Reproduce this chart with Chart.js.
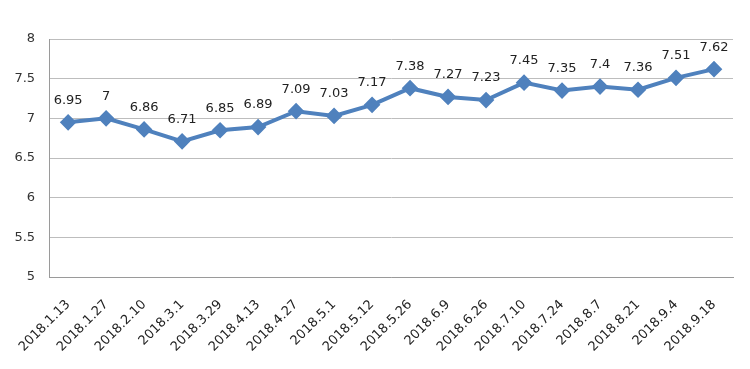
<!DOCTYPE html>
<html>
<head>
<meta charset="utf-8">
<script src="https://cdn.jsdelivr.net/npm/chart.js@4/dist/chart.umd.min.js"></script>
<style>
  html, body { margin: 0; padding: 0; background: #fff; }
  #wrap { width: 750px; height: 369px; position: relative; }
</style>
</head>
<body>
<div id="wrap"><canvas id="chart"></canvas></div>
<script>
const dates = ['2018.1.13', '2018.1.27', '2018.2.10', '2018.3.1', '2018.3.29', '2018.4.13', '2018.4.27',
  '2018.5.1', '2018.5.12', '2018.5.26', '2018.6.9', '2018.6.26', '2018.7.10', '2018.7.24',
  '2018.8.7', '2018.8.21', '2018.9.4', '2018.9.18'];
const values = [6.95, 7, 6.86, 6.71, 6.85, 6.89, 7.09, 7.03, 7.17, 7.38, 7.27, 7.23, 7.45, 7.35, 7.4, 7.36, 7.51, 7.62];
const yTicks = [5, 5.5, 6, 6.5, 7, 7.5, 8];

const lineColor = '#4F81BD';

// draw the value above each point
const valueLabels = {
  id: 'valueLabels',
  afterDatasetsDraw(chart) {
    const ctx = chart.ctx;
    const meta = chart.getDatasetMeta(0);
    ctx.save();
    ctx.font = '13px "DejaVu Sans", sans-serif';
    ctx.fillStyle = '#222';
    ctx.textAlign = 'center';
    ctx.textBaseline = 'middle';
    meta.data.forEach((pt, i) => {
      ctx.fillText(String(values[i]), pt.x, pt.y - 22);
    });
    ctx.restore();
  }
};

const ctx = document.getElementById('chart').getContext('2d');
new Chart(ctx, {
  type: 'line',
  data: {
    labels: dates,
    datasets: [{
      data: values,
      borderColor: lineColor,
      backgroundColor: lineColor,
      borderWidth: 4,
      pointStyle: 'rectRot',
      pointRadius: 5.5,
      pointHoverRadius: 5.5,
      tension: 0,
      fill: false
    }]
  },
  options: {
    responsive: true,
    maintainAspectRatio: false,
    animation: false,
    layout: { padding: { top: 39, right: 17, left: 0, bottom: 0 } },
    plugins: {
      legend: { display: false },
      tooltip: { enabled: false }
    },
    scales: {
      x: {
        offset: true,
        grid: { display: false, drawTicks: false },
        border: { color: '#9a9a9a', width: 1 },
        ticks: {
          color: '#222',
          font: { size: 13, family: '"DejaVu Sans", sans-serif' },
          maxRotation: 45,
          minRotation: 45,
          autoSkip: false,
          padding: 20
        },
        afterFit(scale) { scale.height = 92; }
      },
      y: {
        min: 5,
        max: 8,
        afterBuildTicks(scale) { scale.ticks = yTicks.map(v => ({ value: v })); },
        grid: { color: '#bdbdbd', lineWidth: 1, drawTicks: false },
        border: { color: '#9a9a9a', width: 1 },
        ticks: {
          color: '#333',
          font: { size: 13, family: '"DejaVu Sans", sans-serif' },
          padding: 14,
          callback: v => String(v)
        },
        afterFit(scale) { scale.width = 48; }
      }
    }
  },
  plugins: [valueLabels]
});
</script>
</body>
</html>
